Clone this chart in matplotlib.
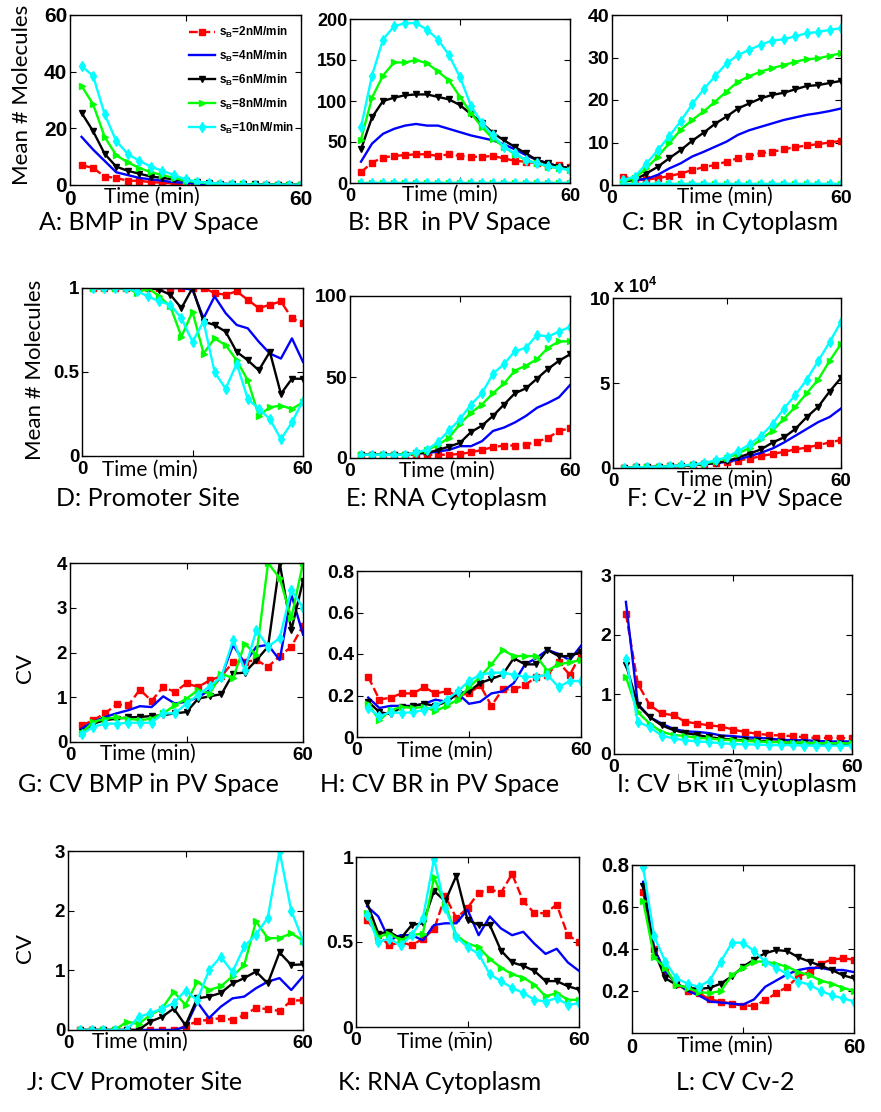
import numpy as np
import matplotlib
matplotlib.use("Agg")
import matplotlib.pyplot as plt
from matplotlib.patches import Rectangle

plt.rcParams["mathtext.default"] = "bf"
plt.rcParams["mathtext.fontset"] = "custom"
plt.rcParams["mathtext.bf"] = "Liberation Sans:bold"

# time points (min)
t = [3, 6, 9, 12, 15, 18, 21, 24, 27, 30, 33, 36, 39, 42, 45, 48, 51, 54, 57, 60]
labels = ["$s_B$=2nM/min", "$s_B$=4nM/min", "$s_B$=6nM/min", "$s_B$=8nM/min", "$s_B$=10nM/min"]

# A: BMP in PV space
A_2 = [7, 6, 3, 2.5, 1.5, 1.5, 1, 0.8, 0.5, 0.3, 0.2, 0.2, 0.1, 0.1, 0.1, 0.1, 0.1, 0.1, 0.1, 0.1]
A_4 = [17, 12.5, 8.5, 4.5, 3.5, 2.5, 2, 1.5, 1, 0.8, 0.5, 0.3, 0.2, 0.2, 0.1, 0.1, 0.1, 0.1, 0.1, 0.1]
A_6 = [25.5, 19, 11, 6.5, 5, 4, 3, 2.5, 2, 1.5, 1, 0.8, 0.5, 0.3, 0.2, 0.2, 0.1, 0.1, 0.1, 0.1]
A_8 = [35, 28.5, 17, 10.5, 8, 6, 4.5, 3.5, 2.5, 1.5, 1, 0.5, 0.3, 0.2, 0.2, 0.1, 0.1, 0.1, 0.1, 0.1]
A_10 = [42, 38.5, 25, 15.5, 11, 8.5, 6.5, 5, 3.5, 2, 1.2, 0.8, 0.5, 0.3, 0.2, 0.1, 0.1, 0.1, 0.1, 0.1]

# B: BR in PV space
B_2 = [13, 25, 31, 33, 34, 35, 35, 33, 35, 33, 32, 32, 33, 30, 27, 26, 24, 22, 22, 20]
B_4 = [26, 48, 60, 66, 70, 72, 70, 70, 66, 62, 58, 55, 52, 47, 41, 34, 28, 24, 20, 18]
B_6 = [41, 80, 100, 104, 107, 108, 108, 105, 102, 95, 84, 73, 61, 52, 44, 36, 28, 24, 20, 18]
B_8 = [53, 104, 131, 147, 147, 150, 146, 136, 125, 105, 85, 68, 54, 44, 35, 28, 24, 20, 18, 16]
B_10 = [68, 131, 175, 191, 195, 195, 187, 175, 156, 129, 94, 73, 58, 44, 36, 28, 24, 21, 18, 16]
B_base = [0, 0, 0, 0, 0, 0, 0, 0, 0, 0, 0, 0, 0, 0, 0, 0, 0, 0, 0, 0]

# C: BR in cytoplasm
C_2 = [2, 1.2, 1.3, 1.6, 2.1, 2.7, 3.5, 4.2, 4.7, 5.5, 6.3, 6.8, 7.5, 7.8, 8.4, 8.9, 9.3, 9.6, 10, 10.4]
C_4 = [1.2, 1.2, 1.4, 2.4, 3.9, 5.1, 6.7, 7.8, 9, 10.2, 11.8, 12.9, 13.7, 14.5, 15.3, 15.9, 16.5, 16.9, 17.4, 18]
C_6 = [0.8, 1.2, 2.7, 4.3, 6.3, 8.2, 10.4, 12.3, 14.4, 16.1, 18, 19.2, 20.4, 21.2, 21.7, 22.5, 23.3, 23.5, 24, 24.5]
C_8 = [0.8, 1.7, 3.9, 6.7, 9.8, 13, 15.3, 17.3, 19.6, 22, 24.3, 25.6, 26.7, 27.5, 28.2, 29, 29.6, 29.8, 30.4, 31]
C_10 = [1.2, 2, 5, 8.2, 11.5, 15, 19, 22.5, 25.6, 28.6, 30.6, 31.8, 33, 34, 34.3, 35, 35.7, 36, 36.5, 36.9]
C_base = [0.3, 0.3, 0.3, 0.3, 0.3, 0.3, 0.3, 0.3, 0.3, 0.3, 0.3, 0.3, 0.3, 0.3, 0.3, 0.3, 0.3, 0.3, 0.3, 0.3]

# D: promoter site
D_2 = [1, 1, 1, 1, 1, 1, 1, 1, 1, 1, 1, 0.97, 0.96, 0.98, 0.93, 0.88, 0.9, 0.92, 0.82, 0.79]
D_4 = [1, 1, 1, 1, 1, 1, 1, 1, 1, 0.99, 0.82, 0.95, 0.85, 0.78, 0.76, 0.68, 0.61, 0.58, 0.7, 0.56]
D_6 = [1, 1, 1, 1, 1, 1, 0.99, 0.96, 0.88, 1, 0.8, 0.78, 0.74, 0.62, 0.57, 0.51, 0.62, 0.37, 0.46, 0.46]
D_8 = [1, 1, 1, 1, 0.97, 1, 0.95, 0.89, 0.71, 0.86, 0.61, 0.7, 0.66, 0.57, 0.45, 0.24, 0.29, 0.3, 0.28, 0.32]
D_10 = [1, 1, 1, 1, 0.98, 0.95, 0.92, 0.9, 0.82, 0.68, 0.8, 0.5, 0.4, 0.55, 0.34, 0.28, 0.22, 0.1, 0.2, 0.33]

# E: RNA cytoplasm
E_2 = [2, 2, 2, 2, 2, 2, 2, 2, 2, 2.5, 3.5, 5, 6.7, 7.7, 7.7, 8.3, 10, 12.5, 16.7, 18.3]
E_4 = [2, 2, 2, 2, 2, 3, 3, 4, 5, 7.3, 7.3, 10.4, 16.7, 18.8, 22, 26, 31, 34, 37.5, 45]
E_6 = [2, 2, 2, 2, 2, 3, 3, 5, 7, 9.4, 16, 20, 26, 33, 40, 43, 49, 55, 60, 64]
E_8 = [2, 2, 2, 2, 2, 3, 5, 8, 12.5, 21, 28, 33, 40, 46, 54, 57, 61, 68, 72, 72]
E_10 = [2, 2, 2, 2, 2, 3.5, 5, 10, 17, 24, 33, 40, 52, 58, 66, 68, 76, 75, 78, 81]

# F: Cv-2 in PV space (x 10^4)
F_2 = [0.02, 0.03, 0.05, 0.07, 0.1, 0.13, 0.17, 0.22, 0.28, 0.35, 0.44, 0.55, 0.7, 0.83, 0.95, 1.1, 1.2, 1.35, 1.5, 1.65]
F_4 = [0.02, 0.03, 0.05, 0.07, 0.1, 0.13, 0.17, 0.22, 0.29, 0.36, 0.5, 0.7, 0.9, 1.15, 1.5, 1.9, 2.3, 2.7, 3.0, 3.5]
F_6 = [0.02, 0.03, 0.05, 0.07, 0.1, 0.13, 0.17, 0.23, 0.3, 0.4, 0.63, 0.85, 1.1, 1.5, 1.8, 2.3, 3.0, 3.6, 4.5, 5.3]
F_8 = [0.02, 0.03, 0.05, 0.07, 0.1, 0.14, 0.19, 0.26, 0.4, 0.6, 0.85, 1.2, 1.7, 2.2, 2.9, 3.6, 4.4, 5.2, 6.3, 7.3]
F_10 = [0.02, 0.03, 0.05, 0.07, 0.1, 0.15, 0.2, 0.3, 0.45, 0.63, 1.0, 1.4, 1.9, 2.6, 3.5, 4.3, 5.2, 6.3, 7.4, 8.6]

# G: CV BMP in PV space
G_2 = [0.37, 0.49, 0.64, 0.84, 0.82, 1.17, 0.92, 1.23, 1.12, 1.31, 1.23, 1.38, 1.47, 1.79, 1.79, 1.83, 1.68, 1.92, 2.13, 2.6]
G_4 = [0.3, 0.45, 0.56, 0.64, 0.71, 0.8, 0.78, 1.02, 0.86, 0.9, 1.0, 1.16, 1.46, 2.17, 1.76, 2.13, 2.17, 1.83, 3.3, 2.4]
G_6 = [0.22, 0.41, 0.49, 0.52, 0.55, 0.56, 0.58, 0.6, 0.64, 0.67, 0.97, 1.02, 1.07, 1.53, 1.55, 1.83, 2.13, 4.0, 2.5, 3.6]
G_8 = [0.2, 0.45, 0.52, 0.55, 0.52, 0.49, 0.52, 0.64, 0.82, 0.97, 1.16, 1.08, 1.53, 1.42, 2.2, 1.94, 4.0, 3.66, 2.77, 4.0]
G_10 = [0.17, 0.34, 0.41, 0.41, 0.43, 0.43, 0.43, 0.64, 0.64, 0.86, 1.05, 1.25, 1.46, 2.28, 1.61, 2.5, 2.13, 2.32, 3.4, 3.0]

# H: CV BR in PV space
H_2 = [0.29, 0.18, 0.19, 0.21, 0.21, 0.24, 0.21, 0.22, 0.2, 0.21, 0.25, 0.15, 0.23, 0.23, 0.25, 0.29, 0.3, 0.36, 0.3, 0.4]
H_4 = [0.19, 0.14, 0.15, 0.15, 0.15, 0.16, 0.18, 0.17, 0.21, 0.16, 0.17, 0.21, 0.22, 0.26, 0.35, 0.38, 0.42, 0.4, 0.37, 0.44]
H_6 = [0.17, 0.12, 0.11, 0.145, 0.15, 0.16, 0.15, 0.17, 0.21, 0.22, 0.26, 0.28, 0.3, 0.38, 0.35, 0.35, 0.42, 0.39, 0.39, 0.41]
H_8 = [0.16, 0.08, 0.13, 0.145, 0.14, 0.145, 0.125, 0.15, 0.18, 0.24, 0.29, 0.35, 0.42, 0.39, 0.39, 0.39, 0.32, 0.35, 0.36, 0.37]
H_10 = [0.14, 0.1, 0.12, 0.115, 0.12, 0.13, 0.15, 0.18, 0.22, 0.27, 0.3, 0.31, 0.31, 0.3, 0.29, 0.29, 0.3, 0.24, 0.27, 0.27]

# I: CV BR in cytoplasm
I_2 = [2.35, 1.18, 0.82, 0.68, 0.65, 0.54, 0.51, 0.48, 0.46, 0.41, 0.37, 0.34, 0.32, 0.31, 0.3, 0.28, 0.27, 0.27, 0.27, 0.26]
I_4 = [2.55, 0.84, 0.62, 0.51, 0.42, 0.38, 0.37, 0.35, 0.31, 0.3, 0.28, 0.27, 0.26, 0.24, 0.23, 0.23, 0.22, 0.21, 0.21, 0.21]
I_6 = [1.5, 0.82, 0.62, 0.48, 0.4, 0.35, 0.32, 0.28, 0.26, 0.24, 0.23, 0.22, 0.21, 0.2, 0.19, 0.18, 0.18, 0.17, 0.17, 0.17]
I_8 = [1.29, 0.7, 0.51, 0.37, 0.32, 0.3, 0.27, 0.26, 0.24, 0.23, 0.22, 0.21, 0.2, 0.2, 0.19, 0.19, 0.18, 0.18, 0.18, 0.18]
I_10 = [1.6, 0.54, 0.45, 0.31, 0.26, 0.23, 0.21, 0.2, 0.18, 0.17, 0.16, 0.16, 0.15, 0.15, 0.15, 0.14, 0.14, 0.14, 0.14, 0.14]

# J: CV promoter site
J_2 = [0, 0, 0, 0, 0, 0, 0, 0, 0, 0.06, 0.15, 0.17, 0.2, 0.17, 0.25, 0.37, 0.35, 0.32, 0.49, 0.5]
J_4 = [0, 0, 0, 0, 0, 0, 0, 0, 0, 0.05, 0.47, 0.2, 0.39, 0.53, 0.56, 0.7, 0.81, 0.87, 0.67, 0.9]
J_6 = [0, 0, 0, 0, 0, 0, 0.14, 0.22, 0.36, 0.08, 0.53, 0.56, 0.62, 0.78, 0.87, 0.98, 0.78, 1.3, 1.09, 1.1]
J_8 = [0, 0, 0, 0, 0.14, 0.1, 0.25, 0.36, 0.64, 0.42, 0.81, 0.67, 0.73, 0.9, 1.09, 1.82, 1.54, 1.54, 1.62, 1.5]
J_10 = [0, 0, 0, 0, 0, 0.22, 0.28, 0.36, 0.45, 0.66, 0.5, 1.0, 1.23, 0.97, 1.4, 1.6, 1.88, 3.0, 2.0, 1.5]

# K: CV RNA cytoplasm
K_2 = [0.63, 0.54, 0.48, 0.5, 0.48, 0.52, 0.575, 0.77, 0.64, 0.7, 0.79, 0.81, 0.79, 0.9, 0.74, 0.67, 0.67, 0.72, 0.54, 0.5]
K_4 = [0.71, 0.65, 0.51, 0.54, 0.54, 0.51, 0.6, 0.61, 0.61, 0.69, 0.54, 0.65, 0.58, 0.54, 0.56, 0.49, 0.43, 0.46, 0.38, 0.33]
K_6 = [0.73, 0.55, 0.56, 0.52, 0.6, 0.61, 0.8, 0.74, 0.89, 0.63, 0.6, 0.6, 0.45, 0.38, 0.36, 0.33, 0.27, 0.27, 0.24, 0.22]
K_8 = [0.67, 0.53, 0.55, 0.51, 0.54, 0.55, 0.88, 0.72, 0.54, 0.49, 0.47, 0.4, 0.35, 0.31, 0.29, 0.25, 0.18, 0.2, 0.16, 0.16]
K_10 = [0.66, 0.5, 0.52, 0.48, 0.54, 0.64, 0.99, 0.7, 0.53, 0.47, 0.43, 0.31, 0.27, 0.23, 0.2, 0.16, 0.15, 0.17, 0.13, 0.14]

# L: CV Cv-2
L_2 = [0.67, 0.4, 0.29, 0.235, 0.2, 0.19, 0.16, 0.15, 0.14, 0.13, 0.13, 0.155, 0.19, 0.22, 0.27, 0.29, 0.33, 0.35, 0.355, 0.35]
L_4 = [0.72, 0.4, 0.29, 0.24, 0.2, 0.18, 0.15, 0.145, 0.14, 0.135, 0.16, 0.22, 0.25, 0.28, 0.3, 0.31, 0.31, 0.3, 0.3, 0.29]
L_6 = [0.7, 0.39, 0.26, 0.23, 0.215, 0.21, 0.215, 0.235, 0.27, 0.315, 0.35, 0.38, 0.395, 0.39, 0.36, 0.34, 0.32, 0.3, 0.275, 0.26]
L_8 = [0.63, 0.36, 0.31, 0.23, 0.215, 0.195, 0.19, 0.2, 0.275, 0.31, 0.34, 0.34, 0.33, 0.315, 0.29, 0.275, 0.25, 0.235, 0.215, 0.2]
L_10 = [0.79, 0.46, 0.34, 0.26, 0.235, 0.22, 0.25, 0.34, 0.43, 0.43, 0.39, 0.34, 0.31, 0.28, 0.245, 0.23, 0.2, 0.18, 0.165, 0.15]

# line styles for the five production rates
styles = [
    dict(color="#ff0000", ls="--", marker="s", ms=4.5),
    dict(color="#0000ff", ls="-", marker="None"),
    dict(color="#000000", ls="-", marker="v", ms=5),
    dict(color="#00ff00", ls="-", marker=">", ms=5),
    dict(color="#00ffff", ls="-", marker="d", ms=5),
]

W, H = 881, 1112
fig = plt.figure(figsize=(W / 100, H / 100), dpi=100)

TXT = "Lato"
TICK = "Liberation Sans"


def add_panel(box, series, ylim, yticks, tick_fs, yticklabels=None):
    l, top, r, b = box
    ax = fig.add_axes([l / W, 1 - b / H, (r - l) / W, (b - top) / H])
    lines = []
    for vals, st in zip(series, styles):
        ln, = ax.plot(t, vals, lw=1.7, mec=st["color"], mfc=st["color"], **st)
        lines.append(ln)
    ax.set_xlim(0, 60)
    ax.set_ylim(*ylim)
    ax.set_xticks([0, 30, 60])
    ax.set_yticks(yticks)
    if yticklabels is not None:
        ax.set_yticklabels(yticklabels)
    ax.tick_params(direction="in", top=True, right=True, length=4, width=0.8, pad=2)
    ax.tick_params(axis="x", pad=3.5)
    for lab in ax.get_xticklabels() + ax.get_yticklabels():
        lab.set_fontfamily(TICK)
        lab.set_fontweight("bold")
        lab.set_fontsize(tick_fs)
    for sp in ax.spines.values():
        sp.set_linewidth(1.0)
    return ax, lines


def ftext(x, y, s, size, **kw):
    return fig.text(x / W, 1 - y / H, s, fontsize=size, fontfamily=TXT,
                    ha=kw.pop("ha", "center"), va=kw.pop("va", "center"), **kw)


axA, handles = add_panel((70, 15, 301, 185), [A_2, A_4, A_6, A_8, A_10], (0, 60), [0, 20, 40, 60], 15)
axB, _ = add_panel((350, 19, 570, 183), [B_2, B_4, B_6, B_8, B_10], (0, 200), [0, 50, 100, 150, 200], 13)
axB.plot(t, B_base, color="#00ff00", marker=">", ms=5, lw=1.7)
axB.plot(t, B_base, color="#00ffff", marker="d", ms=5, lw=1.7)
axC, _ = add_panel((612, 15, 841, 185), [C_2, C_4, C_6, C_8, C_10], (0, 40), [0, 10, 20, 30, 40], 14)
axC.plot(t, C_base, color="#00ff00", marker=">", ms=5, lw=1.7)
axC.plot(t, C_base, color="#00ffff", marker="d", ms=5, lw=1.7)

add_panel((82, 288, 303, 456), [D_2, D_4, D_6, D_8, D_10], (0, 1), [0, 0.5, 1], 13.5, ["0", "0.5", "1"])
add_panel((350, 296, 570, 458), [E_2, E_4, E_6, E_8, E_10], (0, 100), [0, 50, 100], 14)
add_panel((613, 298, 841, 468), [F_2, F_4, F_6, F_8, F_10], (0, 10), [0, 5, 10], 13.5)

add_panel((70, 563, 303, 742), [G_2, G_4, G_6, G_8, G_10], (0, 4), [0, 1, 2, 3, 4], 13.5)
add_panel((357, 571, 581, 737), [H_2, H_4, H_6, H_8, H_10], (0, 0.8), [0, 0.2, 0.4, 0.6, 0.8], 14,
          ["0", "0.2", "0.4", "0.6", "0.8"])
add_panel((614, 575, 852, 754), [I_2, I_4, I_6, I_8, I_10], (0, 3), [0, 1, 2, 3], 14)

add_panel((68, 851, 303, 1030), [J_2, J_4, J_6, J_8, J_10], (0, 3), [0, 1, 2, 3], 13.5)
add_panel((356, 857, 579, 1027), [K_2, K_4, K_6, K_8, K_10], (0, 1), [0, 0.5, 1], 14, ["0", "0.5", "1"])
add_panel((632, 865, 854, 1033), [L_2, L_4, L_6, L_8, L_10], (0, 0.8), [0.2, 0.4, 0.6, 0.8], 14.5)

axA.legend(handles, labels, loc="upper right", bbox_to_anchor=(1.0, 0.985), frameon=False,
           prop={"family": TICK, "weight": "bold", "size": 8.5}, handlelength=2.2,
           handletextpad=0.3, labelspacing=0.75, borderaxespad=0.2)

fig.text(613 / W, 1 - 287 / H, r"x 10$^{4}$", fontsize=13, fontfamily=TICK,
         fontweight="bold", ha="left", va="center")

# x labels on white boxes: (centre x, centre y, bottom edge of the axes above)
xlabels = [(152, 197, 185), (450, 195, 183), (725, 197, 185),
           (150, 470, 456), (447, 471, 458), (725, 480, 468),
           (148, 754, 742), (445, 751, 737), (735, 771, 754),
           (140, 1042, 1030), (445, 1042, 1027), (725, 1046, 1033)]
for x, y, axb in xlabels:
    top = max(y - 9, axb + 2)
    fig.patches.append(Rectangle(((x - 56) / W, 1 - (y + 10) / H), 112 / W, (y + 10 - top) / H,
                                 transform=fig.transFigure, facecolor="white",
                                 edgecolor="none", zorder=4))
    ftext(x, y, "Time (min)", 15, zorder=5)

captions = [
    (149, 222, "A: BMP in PV Space"), (449, 222, "B: BR  in PV Space"), (730, 222, "C: BR  in Cytoplasm"),
    (148, 499, "D: Promoter Site"), (447, 499, "E: RNA Cytoplasm"), (735, 499, "F: Cv-2 in PV Space"),
    (148, 785, "G: CV BMP in PV Space"), (440, 785, "H: CV BR in PV Space"), (737, 785, "I: CV BR in Cytoplasm"),
    (135, 1082, "J: CV Promoter Site"), (440, 1082, "K: RNA Cytoplasm"), (735, 1082, "L: CV Cv-2"),
]
for x, y, s in captions:
    ftext(x, y, s, 18)

ftext(22, 95, "Mean # Molecules", 16, rotation=90)
ftext(35, 370, "Mean # Molecules", 16, rotation=90)
ftext(25, 668, "CV", 16, rotation=90)
ftext(25, 948, "CV", 16, rotation=90)

fig.savefig("out.png", dpi=100)
